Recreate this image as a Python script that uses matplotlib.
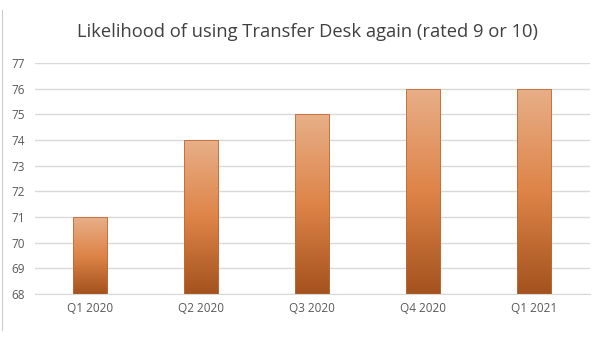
import numpy as np
import matplotlib
matplotlib.use('Agg')
import matplotlib.pyplot as plt
from matplotlib.colors import LinearSegmentedColormap

# data
quarters = ['Q1 2020', 'Q2 2020', 'Q3 2020', 'Q4 2020', 'Q1 2021']
scores = [71, 74, 75, 76, 76]
y_min, y_max = 68, 77

plt.rcParams['font.family'] = ['Open Sans', 'DejaVu Sans']

fig = plt.figure(figsize=(6, 3.4), dpi=100)
ax = fig.add_axes([0.0575, 0.1353, 0.925, 0.679])

# gradient: light top -> orange middle -> dark bottom
cmap = LinearSegmentedColormap.from_list('orng', ['#A4521E', '#DE8448', '#E8AF88'])
grad = np.linspace(0, 1, 256).reshape(-1, 1)

x = np.arange(len(quarters))
bars = ax.bar(x, [s - y_min for s in scores], 0.31, bottom=y_min,
              color='none', edgecolor='#C06A35', lw=0.6, zorder=3)
for b in bars:
    x0, y0 = b.get_x(), b.get_y()
    im = ax.imshow(grad, cmap=cmap, origin='lower', aspect='auto',
                   extent=[x0, x0 + b.get_width(), y0, y0 + b.get_height()],
                   zorder=2, interpolation='bicubic')
    im.set_clip_path(b)

ax.set_xlim(-0.5, len(quarters) - 0.5)
ax.set_ylim(y_min, y_max)
ax.set_yticks(range(y_min, y_max + 1))
ax.set_xticks(x)
ax.set_xticklabels(quarters)
ax.yaxis.grid(True, color='#D9D9D9', lw=1, zorder=0)
ax.set_axisbelow(True)
for s in ax.spines.values():
    s.set_visible(False)
ax.spines['bottom'].set_visible(True)
ax.spines['bottom'].set_color('#D9D9D9')
ax.tick_params(length=0, labelsize=8.5, colors='#595959', pad=6)
ax.tick_params(axis='y', pad=7)

fig.text(0.512, 0.905, 'Likelihood of using Transfer Desk again (rated 9 or 10)',
         ha='center', va='center', fontsize=13.2, color='#404040')

# screenshot border at left
fig.add_artist(plt.Line2D([0.004, 0.004], [0.03, 0.97], color='#CCCCCC', lw=0.8))

fig.savefig('out.png', dpi=100)
